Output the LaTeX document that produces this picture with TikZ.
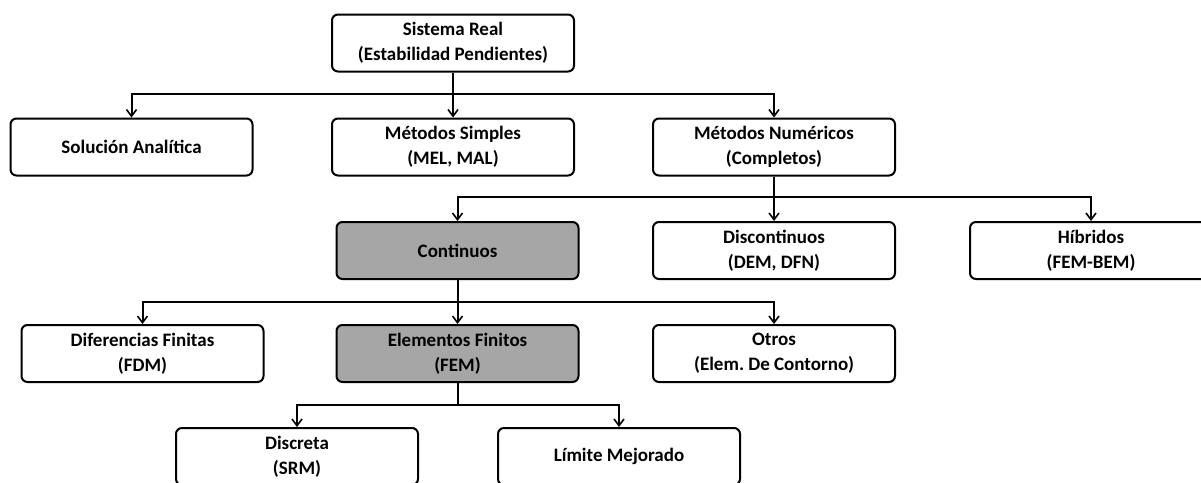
\documentclass[tikz,border=0pt]{standalone}
\usepackage{fontspec}
\setmainfont{Carlito}
\usetikzlibrary{arrows.meta}
\definecolor{fillgray}{HTML}{A6A6A6}
\frenchspacing
\tikzset{
  block/.style={draw,rounded corners=4.5pt,line width=1.5pt,fill=white,
    minimum width=181.5pt,minimum height=42.75pt,align=center,
    font=\fontsize{14.25}{18.75}\selectfont\bfseries},
  shaded/.style={block,fill=fillgray},
  link/.style={line width=1.5pt,-{Straight Barb[length=5pt,width=7.5pt,line width=1.2pt]}}
}

\begin{document}
\begin{tikzpicture}[x=0.75pt,y=-0.75pt]
    \useasboundingbox (0,0) rectangle (1201,482);
    %
    % -- Top level: the real system
    \node [block] (sistema) at (453,43) {Sistema Real\\(Estabilidad Pendientes)};

    % -- Second level: families of methods
    \node [block] (analitica) at (131.5,147) {Solución Analítica};
    \node [block] (simples)   at (453,147)   {Métodos Simples\\(MEL, MAL)};
    \node [block] (numericos) at (774,147)   {Métodos Numéricos\\(Completos)};

    % -- Third level: numerical methods
    \node [shaded] (continuos)    at (457.5,250.5) {Continuos};
    \node [block]  (discontinuos) at (774,250.5)   {Discontinuos\\(DEM, DFN)};
    \node [block]  (hibridos)     at (1091,250.5)  {Híbridos\\(FEM-BEM)};

    % -- Fourth level: continuous methods
    \node [block]  (fdm)   at (142.5,353.5) {Diferencias Finitas\\(FDM)};
    \node [shaded] (fem)   at (457.5,353.5) {Elementos Finitos\\(FEM)};
    \node [block]  (otros) at (774,353.5)   {Otros\\(Elem. De Contorno)};

    % -- Fifth level: finite element variants
    \node [block] (discreta) at (297,456.5) {Discreta\\(SRM)};
    \node [block] (limite)   at (619,456.5) {Límite Mejorado};

    % -- Branch points
    \coordinate (b1) at (453,94);
    \coordinate (b2) at (774,197);
    \coordinate (b3) at (457.5,302);
    \coordinate (b4) at (457.5,405);

    % -- Connectors
    \draw [link] (sistema) -- (simples);
    \draw [link] (b1) -| (analitica);
    \draw [link] (b1) -| (numericos);

    \draw [link] (numericos) -- (discontinuos);
    \draw [link] (b2) -| (continuos);
    \draw [link] (b2) -| (hibridos);

    \draw [link] (continuos) -- (fem);
    \draw [link] (b3) -| (fdm);
    \draw [link] (b3) -| (otros);

    \draw [line width=1.5pt] (fem) -- (b4);
    \draw [link] (b4) -| (discreta);
    \draw [link] (b4) -| (limite);
\end{tikzpicture}
\end{document}
